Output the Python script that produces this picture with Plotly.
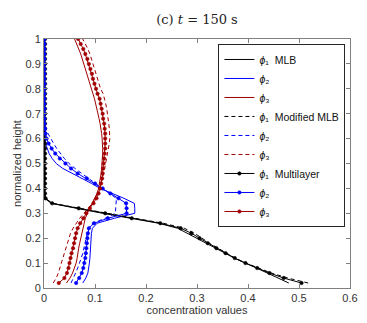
import plotly.graph_objects as go

# normalized height grid (bottom to top)
heights = [0.02, 0.04, 0.06, 0.08, 0.10, 0.12, 0.14, 0.16, 0.18, 0.20,
           0.22, 0.24, 0.26, 0.28, 0.30, 0.32, 0.34, 0.36, 0.38, 0.40,
           0.42, 0.44, 0.46, 0.48, 0.50, 0.52, 0.54, 0.56, 0.58, 0.60,
           0.62, 0.64, 0.66, 0.68, 0.70, 0.72, 0.74, 0.76, 0.78, 0.80,
           0.82, 0.84, 0.86, 0.88, 0.90, 0.92, 0.94, 0.96, 0.98, 1.00]

# MLB
phi1_mlb = [0.480, 0.460, 0.438, 0.417, 0.395, 0.373, 0.355, 0.337, 0.318, 0.300,
            0.283, 0.262, 0.225, 0.167, 0.115, 0.064, 0.014, 0.002, 0.001, 0.001,
            0.001, 0.001, 0.001, 0.001, 0.001, 0.001, 0.001, 0.001, 0.001, 0.001,
            0.001, 0.001, 0.001, 0.001, 0.001, 0.001, 0.001, 0.001, 0.001, 0.001,
            0.001, 0.001, 0.001, 0.001, 0.001, 0.001, 0.001, 0.001, 0.001, 0.001]
phi2_mlb = [0.076, 0.082, 0.086, 0.088, 0.089, 0.090, 0.0905, 0.091, 0.0915, 0.092,
            0.093, 0.095, 0.104, 0.138, 0.178, 0.178, 0.177, 0.157, 0.132, 0.110,
            0.093, 0.074, 0.054, 0.037, 0.024, 0.016, 0.010, 0.006, 0.003, 0.002,
            0.001, 0.001, 0.001, 0.001, 0.001, 0.001, 0.001, 0.001, 0.001, 0.001,
            0.001, 0.001, 0.001, 0.001, 0.001, 0.001, 0.001, 0.001, 0.001, 0.001]
phi3_mlb = [0.044, 0.051, 0.056, 0.060, 0.063, 0.065, 0.066, 0.068, 0.070, 0.072,
            0.074, 0.076, 0.078, 0.081, 0.085, 0.090, 0.095, 0.100, 0.104, 0.107,
            0.109, 0.111, 0.112, 0.113, 0.114, 0.115, 0.115, 0.115, 0.115, 0.114,
            0.113, 0.112, 0.110, 0.108, 0.106, 0.104, 0.101, 0.099, 0.096, 0.093,
            0.090, 0.088, 0.085, 0.082, 0.079, 0.076, 0.072, 0.068, 0.064, 0.060]

# Modified MLB
phi1_mod = [0.518, 0.478, 0.446, 0.420, 0.396, 0.375, 0.357, 0.340, 0.324, 0.310,
            0.295, 0.275, 0.234, 0.178, 0.124, 0.070, 0.017, 0.002, 0.001, 0.001,
            0.001, 0.001, 0.001, 0.001, 0.001, 0.001, 0.001, 0.001, 0.001, 0.001,
            0.001, 0.001, 0.001, 0.001, 0.001, 0.001, 0.001, 0.001, 0.001, 0.001,
            0.001, 0.001, 0.001, 0.001, 0.001, 0.001, 0.001, 0.001, 0.001, 0.001]
phi2_mod = [0.053, 0.058, 0.062, 0.066, 0.070, 0.073, 0.076, 0.078, 0.080, 0.082,
            0.084, 0.087, 0.096, 0.120, 0.140, 0.141, 0.142, 0.142, 0.128, 0.114,
            0.100, 0.087, 0.074, 0.061, 0.049, 0.040, 0.032, 0.025, 0.019, 0.013,
            0.008, 0.004, 0.002, 0.001, 0.001, 0.001, 0.001, 0.001, 0.001, 0.001,
            0.001, 0.001, 0.001, 0.001, 0.001, 0.001, 0.001, 0.001, 0.001, 0.001]
phi3_mod = [0.018, 0.024, 0.028, 0.031, 0.034, 0.037, 0.039, 0.042, 0.045, 0.048,
            0.052, 0.057, 0.063, 0.070, 0.078, 0.087, 0.094, 0.100, 0.105, 0.109,
            0.112, 0.115, 0.117, 0.119, 0.121, 0.123, 0.125, 0.127, 0.128, 0.129,
            0.129, 0.128, 0.127, 0.126, 0.125, 0.123, 0.121, 0.119, 0.116, 0.111,
            0.108, 0.105, 0.103, 0.100, 0.097, 0.094, 0.090, 0.086, 0.081, 0.076]

# Multilayer
phi1_ml = [0.505, 0.470, 0.442, 0.418, 0.395, 0.374, 0.356, 0.338, 0.321, 0.305,
           0.289, 0.268, 0.228, 0.172, 0.120, 0.068, 0.016, 0.003, 0.002, 0.002,
           0.002, 0.002, 0.002, 0.002, 0.002, 0.002, 0.002, 0.002, 0.002, 0.002,
           0.002, 0.002, 0.002, 0.002, 0.002, 0.002, 0.002, 0.002, 0.002, 0.002,
           0.002, 0.002, 0.002, 0.002, 0.002, 0.002, 0.002, 0.002, 0.002, 0.002]
phi2_ml = [0.063, 0.069, 0.074, 0.077, 0.079, 0.081, 0.082, 0.083, 0.084, 0.085,
           0.086, 0.088, 0.098, 0.125, 0.162, 0.162, 0.161, 0.146, 0.130, 0.115,
           0.100, 0.084, 0.066, 0.053, 0.042, 0.031, 0.022, 0.015, 0.009, 0.005,
           0.003, 0.002, 0.001, 0.001, 0.001, 0.001, 0.001, 0.001, 0.001, 0.001,
           0.001, 0.001, 0.001, 0.001, 0.001, 0.001, 0.001, 0.001, 0.001, 0.001]
phi3_ml = [0.029, 0.040, 0.045, 0.048, 0.050, 0.052, 0.054, 0.057, 0.059, 0.061,
           0.063, 0.066, 0.071, 0.077, 0.083, 0.090, 0.097, 0.103, 0.107, 0.110,
           0.112, 0.114, 0.115, 0.116, 0.117, 0.118, 0.119, 0.120, 0.120, 0.120,
           0.120, 0.119, 0.118, 0.116, 0.115, 0.113, 0.111, 0.109, 0.105, 0.102,
           0.099, 0.096, 0.094, 0.091, 0.088, 0.085, 0.081, 0.077, 0.072, 0.067]

x_ticks = [0, 0.1, 0.2, 0.3, 0.4, 0.5, 0.6]
y_ticks = [0, 0.1, 0.2, 0.3, 0.4, 0.5, 0.6, 0.7, 0.8, 0.9, 1]

BLACK = "#000000"
BLUE = "#0000FF"
RED = "#A00000"
NB = "\u00a0"

series = [
    (phi1_mlb, BLACK, "solid", False, "<i>ϕ</i>₁" + NB + NB + "MLB"),
    (phi2_mlb, BLUE, "solid", False, "<i>ϕ</i>₂"),
    (phi3_mlb, RED, "solid", False, "<i>ϕ</i>₃"),
    (phi1_mod, BLACK, "4px,3px", False, "<i>ϕ</i>₁" + NB + NB + "Modified MLB"),
    (phi2_mod, BLUE, "4px,3px", False, "<i>ϕ</i>₂"),
    (phi3_mod, RED, "4px,3px", False, "<i>ϕ</i>₃"),
    (phi1_ml, BLACK, "solid", True, "<i>ϕ</i>₁" + NB + NB + "Multilayer"),
    (phi2_ml, BLUE, "solid", True, "<i>ϕ</i>₂"),
    (phi3_ml, RED, "solid", True, "<i>ϕ</i>₃"),
]

fig = go.Figure()
for vals, col, dash, mk, name in series:
    fig.add_trace(go.Scatter(
        x=vals, y=heights, name=name,
        mode="lines+markers" if mk else "lines",
        line=dict(color=col, width=1, dash=dash),
        marker=dict(symbol="circle", size=3.5, color=col,
                    line=dict(width=0.5, color=col)),
    ))

FONT = "Liberation Sans, Arial, sans-serif"
axis_common = dict(
    showline=True, linecolor="#808080", linewidth=1, mirror="ticks",
    ticks="inside", ticklen=4, tickcolor="#808080", tickwidth=1,
    showgrid=False, zeroline=False,
    tickfont=dict(family=FONT, size=11, color="#333333"),
)

fig.update_xaxes(range=[0, 0.6], tickvals=x_ticks,
                 title=dict(text="concentration values", standoff=2,
                            font=dict(family=FONT, size=11, color="#333333")),
                 **axis_common)
fig.update_yaxes(range=[0, 1], tickvals=y_ticks,
                 title=dict(text="normalized height", standoff=1,
                            font=dict(family=FONT, size=11, color="#333333")),
                 **axis_common)

# the page body adds an 8px offset, so the figure is sized to fill the rest
fig.update_layout(
    width=359, height=315,
    margin=dict(l=32, r=9, t=31, b=28),
    paper_bgcolor="white", plot_bgcolor="white",
    title=dict(text="(c) <i>t</i> = 150" + NB + "s", x=0.5, xref="paper", xanchor="center",
               y=0.963, yanchor="middle",
               font=dict(family="DejaVu Serif, Liberation Serif, serif", size=13, color="#222222")),
    legend=dict(x=0.57, y=0.98, xanchor="left", yanchor="top",
                bgcolor="white", bordercolor="#262626", borderwidth=1,
                font=dict(family=FONT, size=10.5, color="#111111"),
                itemwidth=30, tracegroupgap=0),
    showlegend=True,
)

fig.write_html("out.html")
